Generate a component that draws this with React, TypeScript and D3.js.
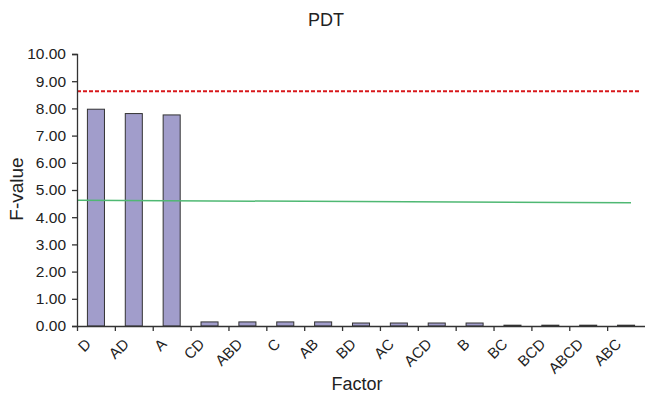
import { useEffect, useRef } from "react"
import * as d3 from "d3"

const factors = ["D", "AD", "A", "CD", "ABD", "C", "AB", "BD", "AC", "ACD", "B", "BC", "BCD", "ABCD", "ABC"]
const fValues = [7.97, 7.81, 7.76, 0.15, 0.15, 0.15, 0.15, 0.11, 0.11, 0.11, 0.11, 0.03, 0.03, 0.03, 0.03]
const yTicks = [0, 1, 2, 3, 4, 5, 6, 7, 8, 9, 10]
// reference lines: value at left end, value at right end
const redLine = [8.63, 8.63]
const greenLine = [4.62, 4.53]

const W = 645
const H = 395

export default function App() {
  const svgRef = useRef<SVGSVGElement>(null)

  useEffect(() => {
    if (!svgRef.current) return
    const svg = d3.select(svgRef.current)
    svg.selectAll("*").remove()

    const font = "'Liberation Sans', Arial, sans-serif"
    const left = 77
    const right = 645
    const top = 54
    const bottom = 326

    const x = d3.scaleBand().domain(factors).range([left, right]).paddingInner(0.55).paddingOuter(0.275)
    const xb = d3.scaleLinear().domain([0, factors.length]).range([left, right])
    const y = d3.scaleLinear().domain([0, 10]).range([bottom, top])

    // title
    svg.append("text")
      .attr("x", 326)
      .attr("y", 26)
      .attr("text-anchor", "middle")
      .style("font-family", font)
      .style("font-size", "18px")
      .style("fill", "#222")
      .text("PDT")

    // bars
    svg.selectAll(".bar")
      .data(factors)
      .enter()
      .append("rect")
      .attr("x", d => x(d) || 0)
      .attr("y", (d, i) => y(fValues[i]))
      .attr("width", x.bandwidth())
      .attr("height", (d, i) => bottom - y(fValues[i]))
      .attr("fill", "#a19dcb")
      .attr("stroke", "#333")
      .attr("stroke-width", 1)

    // reference lines
    svg.append("line")
      .attr("x1", left)
      .attr("x2", 640)
      .attr("y1", y(redLine[0]))
      .attr("y2", y(redLine[1]))
      .attr("stroke", "#d7191c")
      .attr("stroke-width", 2)
      .attr("stroke-dasharray", "4,2")

    svg.append("line")
      .attr("x1", left)
      .attr("x2", 631)
      .attr("y1", y(greenLine[0]))
      .attr("y2", y(greenLine[1]))
      .attr("stroke", "#4fb873")
      .attr("stroke-width", 1.5)

    // y axis
    const ya = svg.append("g")
      .attr("transform", `translate(${left},0)`)
      .call(d3.axisLeft(y).tickValues(yTicks).tickSize(5).tickFormat(d => (d as number).toFixed(2)))
    ya.select(".domain").attr("stroke", "#333").attr("stroke-width", 1.3)
    ya.selectAll(".tick line").attr("stroke", "#333").attr("stroke-width", 1.3)
    ya.selectAll("text")
      .attr("x", -11)
      .style("font-family", font)
      .style("font-size", "15.5px")
      .style("fill", "#222")

    // x axis
    const xa = svg.append("g")
      .attr("transform", `translate(0,${bottom})`)
      .call(d3.axisBottom(xb).tickValues(d3.range(factors.length)).tickSize(5).tickFormat(() => "").tickSizeOuter(0))
    xa.select(".domain").attr("stroke", "#333").attr("stroke-width", 1.3)
    xa.selectAll(".tick line").attr("stroke", "#333").attr("stroke-width", 1.3)

    svg.selectAll(".xl")
      .data(factors)
      .enter()
      .append("text")
      .attr("transform", d => `translate(${(x(d) || 0) + x.bandwidth() / 2 - 4},${bottom + 19}) rotate(-45)`)
      .attr("text-anchor", "end")
      .style("font-family", font)
      .style("font-size", "15px")
      .style("fill", "#222")
      .text(d => d)

    // axis titles
    svg.append("text")
      .attr("transform", `translate(23,189) rotate(-90)`)
      .attr("text-anchor", "middle")
      .style("font-family", font)
      .style("font-size", "19px")
      .style("fill", "#222")
      .text("F-value")

    svg.append("text")
      .attr("x", 357)
      .attr("y", 390)
      .attr("text-anchor", "middle")
      .style("font-family", font)
      .style("font-size", "18px")
      .style("fill", "#222")
      .text("Factor")
  }, [])

  return <svg ref={svgRef} width={W} height={H} style={{ position: "absolute", left: 0, top: 0, background: "#fff" }} />
}
